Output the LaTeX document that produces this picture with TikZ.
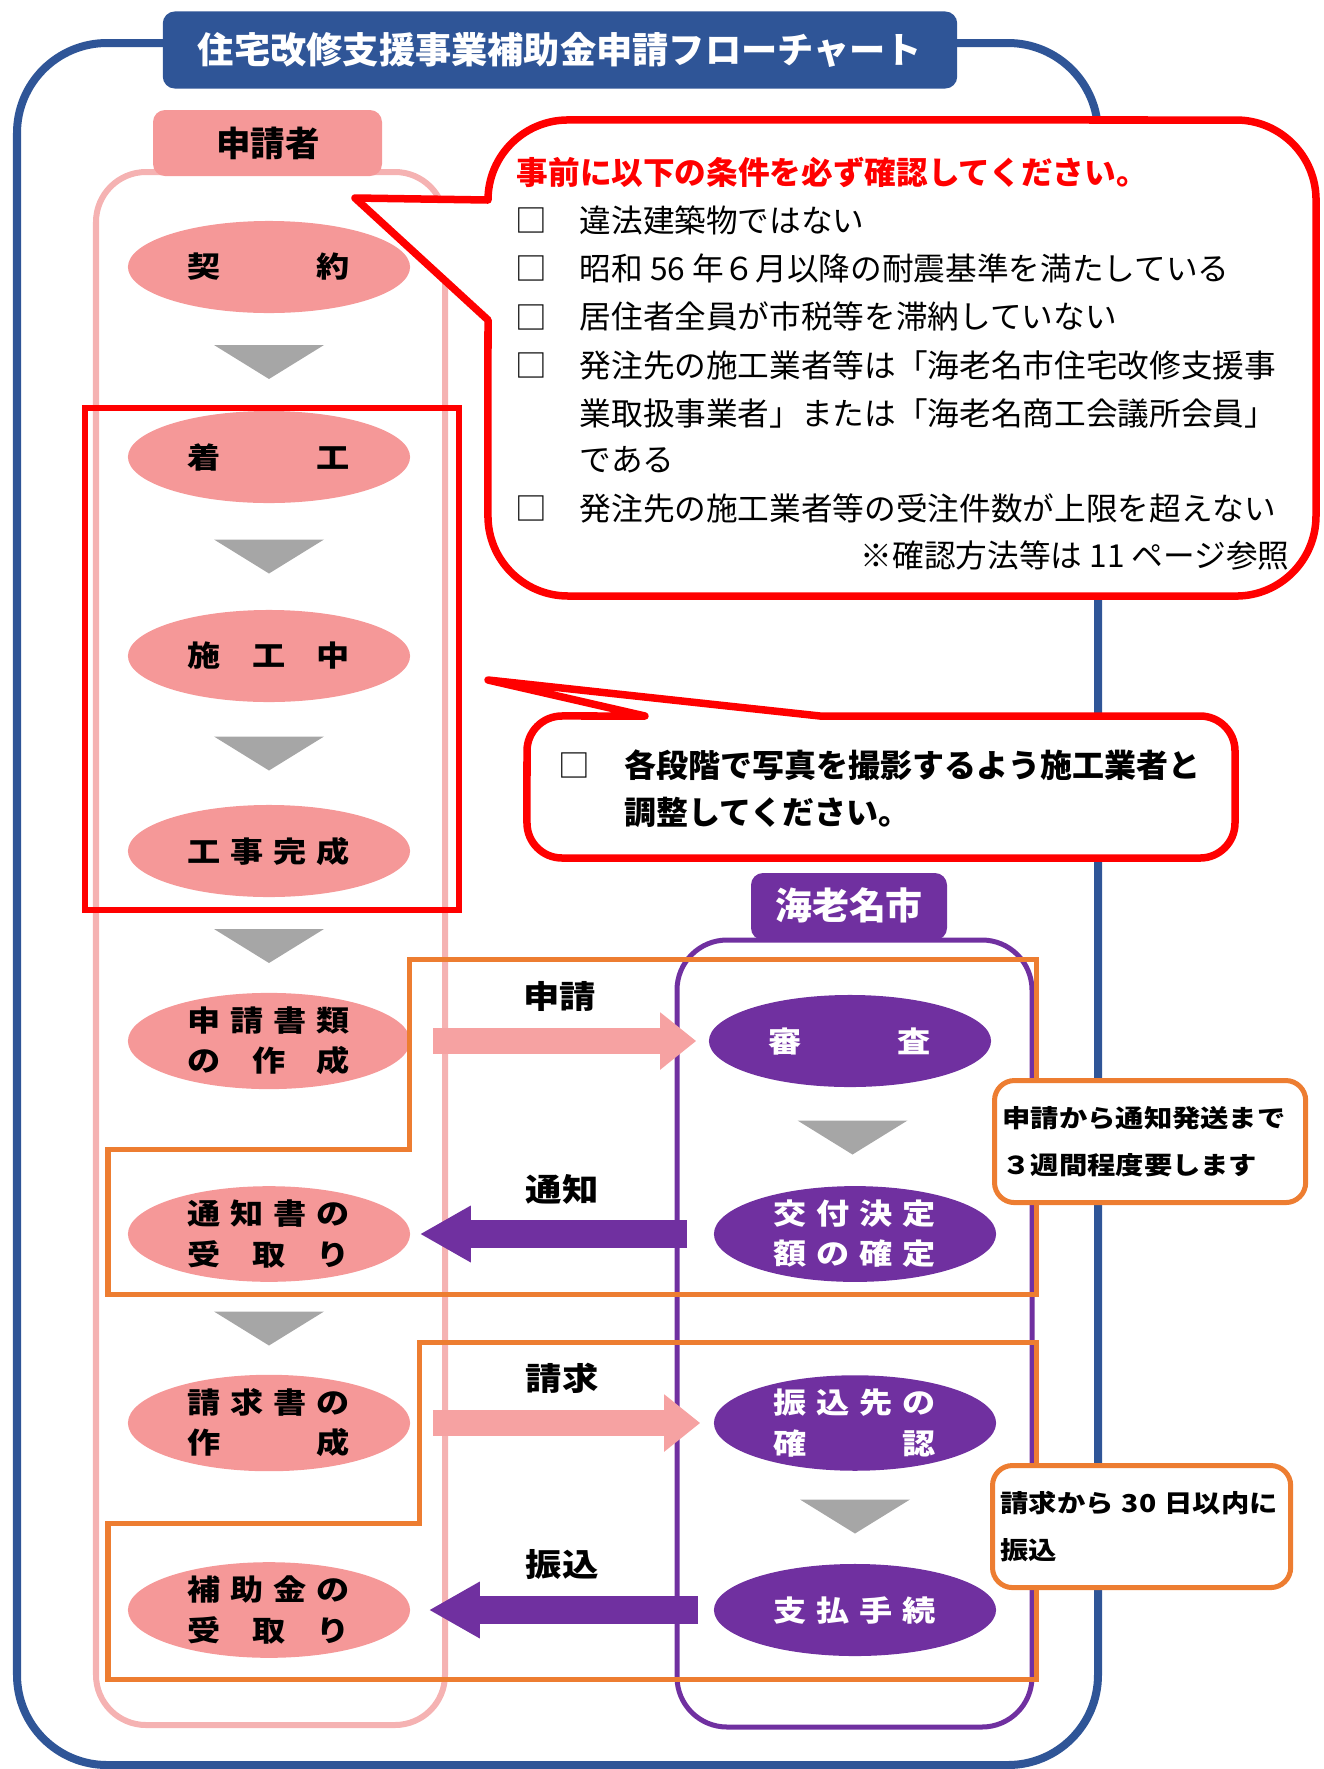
\documentclass[tikz,border=0pt]{standalone}
\usepackage{fontspec}
\newfontfamily\jp{Noto Sans CJK JP}
\newfontfamily\jpw{Noto Sans CJK JP}[FakeStretch=1.15]
\usetikzlibrary{shapes.geometric,arrows.meta,calc}
\definecolor{fblue}{RGB}{47,85,151}
\definecolor{apink}{RGB}{245,152,152}
\definecolor{lpink}{RGB}{245,178,178}
\definecolor{arpink}{RGB}{246,162,162}
\definecolor{ebina}{RGB}{112,48,160}
\definecolor{tgray}{RGB}{166,166,166}
\definecolor{note}{RGB}{237,125,49}
\newcommand\evenly[1]{\makebox[1.62cm]{#1}}

\begin{document}
\begin{tikzpicture}[x=0.01cm,y=-0.01cm,
  apstep/.style={ellipse,fill=apink,minimum width=2.82cm,minimum height=0.92cm,inner sep=0,align=center,
    font=\jpw\bfseries\fontsize{8.2pt}{11.4pt}\selectfont},
  cistep/.style={apstep,fill=ebina,text=white},
  jtext/.style={inner sep=0,font=\jp\fontsize{9pt}{10pt}\selectfont},
  balloon/.style={draw=red,line width=0.075cm,fill=white,line join=round},
  toright/.style={draw=arpink,line width=0.26cm,-{Triangle[length=0.36cm,width=0.55cm]}},
  toleft/.style={draw=ebina,line width=0.28cm,-{Triangle[length=0.51cm,width=0.53cm]}},
  flowlbl/.style={midway,yshift=0.45cm,inner sep=0,font=\jpw\bfseries\fontsize{9pt}{10pt}\selectfont},
  remark/.style={draw=note,line width=0.05cm,fill=white,rounded corners=0.2cm,align=left,text width=2.95cm,
    minimum height=1.22cm,inner xsep=0.08cm,font=\jpw\bfseries\fontsize{7pt}{13.4pt}\selectfont}]
\useasboundingbox (0,0) rectangle (1324,1769);
\draw[fblue,line width=0.08cm,rounded corners=0.9cm] (17,43) rectangle (1098,1765);
\node[fill=fblue,rounded corners=0.12cm,minimum width=7.94cm,minimum height=0.77cm,text=white,
  font=\jp\bfseries\fontsize{10.3pt}{12pt}\selectfont] (title) at (560,50) {住宅改修支援事業補助金申請フローチャート};

\draw[lpink,line width=0.06cm,rounded corners=0.5cm] (96,172) rectangle (445,1725);
\draw[ebina,line width=0.05cm,rounded corners=0.5cm] (677,940) rectangle (1032,1727);
\fill[apink,rounded corners=0.12cm] (153,110) rectangle (382,176);
\node[inner sep=0,font=\jp\bfseries\fontsize{9.8pt}{12pt}\selectfont] (applicant) at (268,143) {申請者};
\fill[ebina,rounded corners=0.12cm] (751,873) rectangle (947,940);
\node[inner sep=0,text=white,font=\jp\bfseries\fontsize{10.5pt}{12pt}\selectfont] (city) at (849,905) {海老名市};

\draw[balloon] (355,198) -- (488,200) arc[start angle=180,end angle=90,radius=0.8cm] -- (1236,120)
  arc[start angle=90,end angle=0,radius=0.8cm] -- (1316,516) arc[start angle=0,end angle=-90,radius=0.8cm]
  -- (568,596) arc[start angle=-90,end angle=-180,radius=0.8cm] -- (488,320) -- cycle;
\node[jtext,anchor=west,text=red,font=\jp\bfseries\fontsize{9pt}{10pt}\selectfont] (chk) at (516,172) {事前に以下の条件を必ず確認してください。};
\foreach \y [count=\i] in {220,268,317,365,508}
  \node[jtext] (box\i) at (531,\y) {□};
\foreach \y/\t [count=\i] in {220/違法建築物ではない,268/昭和 56 年６月以降の耐震基準を満たしている,
    317/居住者全員が市税等を滞納していない,365/発注先の施工業者等は「海老名市住宅改修支援事,
    413/業取扱事業者」または「海老名商工会議所会員」,460/である,508/発注先の施工業者等の受注件数が上限を超えない}
  \node[jtext,anchor=west] (cond\i) at (579,\y) {\t};
\node[jtext,anchor=east] (refpage) at (1290,555) {※確認方法等は 11 ページ参照};

\draw[balloon] (645,716) -- (488,680) -- (820,716) -- (1200,716) arc[start angle=90,end angle=0,radius=0.35cm]
  -- (1235,823) arc[start angle=0,end angle=-90,radius=0.35cm] -- (562,858)
  arc[start angle=-90,end angle=-180,radius=0.35cm] -- (527,751) arc[start angle=180,end angle=90,radius=0.35cm] -- cycle;
\node[jtext] (box6) at (574,765) {□};
\node[jtext,anchor=west,font=\jp\bfseries\fontsize{9.1pt}{10pt}\selectfont] (photo1) at (624,765) {各段階で写真を撮影するよう施工業者と};
\node[jtext,anchor=west,font=\jp\bfseries\fontsize{9.1pt}{10pt}\selectfont] (photo2) at (624,812) {調整してください。};

\node[apstep] (keiyaku) at (269,267) {\evenly{契\hfill 約}};
\node[apstep] (chakko) at (269,457) {\evenly{着\hfill 工}};
\node[apstep] (sekochu) at (269,656) {\evenly{施\hfill 工\hfill 中}};
\node[apstep] (kansei) at (269,851) {\evenly{工\hfill 事\hfill 完\hfill 成}};
\node[apstep] (sakusei) at (269,1041) {\evenly{申\hfill 請\hfill 書\hfill 類}\\\evenly{の\hfill 作\hfill 成}};
\node[apstep] (uketori) at (269,1234) {\evenly{通\hfill 知\hfill 書\hfill の}\\\evenly{受\hfill 取\hfill り}};
\node[apstep] (seikyu) at (269,1423) {\evenly{請\hfill 求\hfill 書\hfill の}\\\evenly{作\hfill 成}};
\node[apstep] (hojokin) at (269,1610) {\evenly{補\hfill 助\hfill 金\hfill の}\\\evenly{受\hfill 取\hfill り}};
\node[cistep] (shinsa) at (850,1041) {\evenly{審\hfill 査}};
\node[cistep] (kettei) at (855,1234) {\evenly{交\hfill 付\hfill 決\hfill 定}\\\evenly{額\hfill の\hfill 確\hfill 定}};
\node[cistep] (kakunin) at (855,1423) {\evenly{振\hfill 込\hfill 先\hfill の}\\\evenly{確\hfill 認}};
\node[cistep] (shiharai) at (855,1610) {\evenly{支\hfill 払\hfill 手\hfill 続}};

\foreach \a/\b in {keiyaku/chakko,chakko/sekochu,sekochu/kansei,kansei/sakusei,uketori/seikyu,shinsa/kettei,kakunin/shiharai}
  \fill[tgray] ($(\a)!0.5!(\b)$) +(-55,-17) -- +(55,-17) -- +(0,17) -- cycle;

\draw[toright,shorten <=0.22cm,shorten >=0.12cm] (sakusei) -- (shinsa) node[flowlbl] (lshinsei) {申請};
\draw[toleft,shorten <=0.26cm,shorten >=0.09cm] (kettei) -- (uketori) node[flowlbl] (ltsuchi) {通知};
\draw[toright,shorten <=0.22cm,shorten >=0.13cm] (seikyu) -- (kakunin) node[flowlbl] (lseikyu) {請求};
\draw[toleft,shorten <=0.15cm,shorten >=0.18cm] (shiharai) -- (hojokin) node[flowlbl] (lfurikomi) {振込};

\draw[red,line width=0.065cm] (85,408) rectangle (459,910);
\draw[note,line width=0.05cm] (409,959) -- (1036,959) -- (1036,1294) -- (108,1294) -- (108,1149) -- (409,1149) -- cycle;
\draw[note,line width=0.05cm] (419,1342) -- (1036,1342) -- (1036,1679) -- (108,1679) -- (108,1523) -- (419,1523) -- cycle;
\node[remark,anchor=north west] (span1) at (992,1078) {申請から通知発送まで\\３週間程度要します};
\node[remark,anchor=north west,text width=2.82cm] (span2) at (990,1463) {請求から 30 日以内に\\振込};
\end{tikzpicture}
\end{document}
